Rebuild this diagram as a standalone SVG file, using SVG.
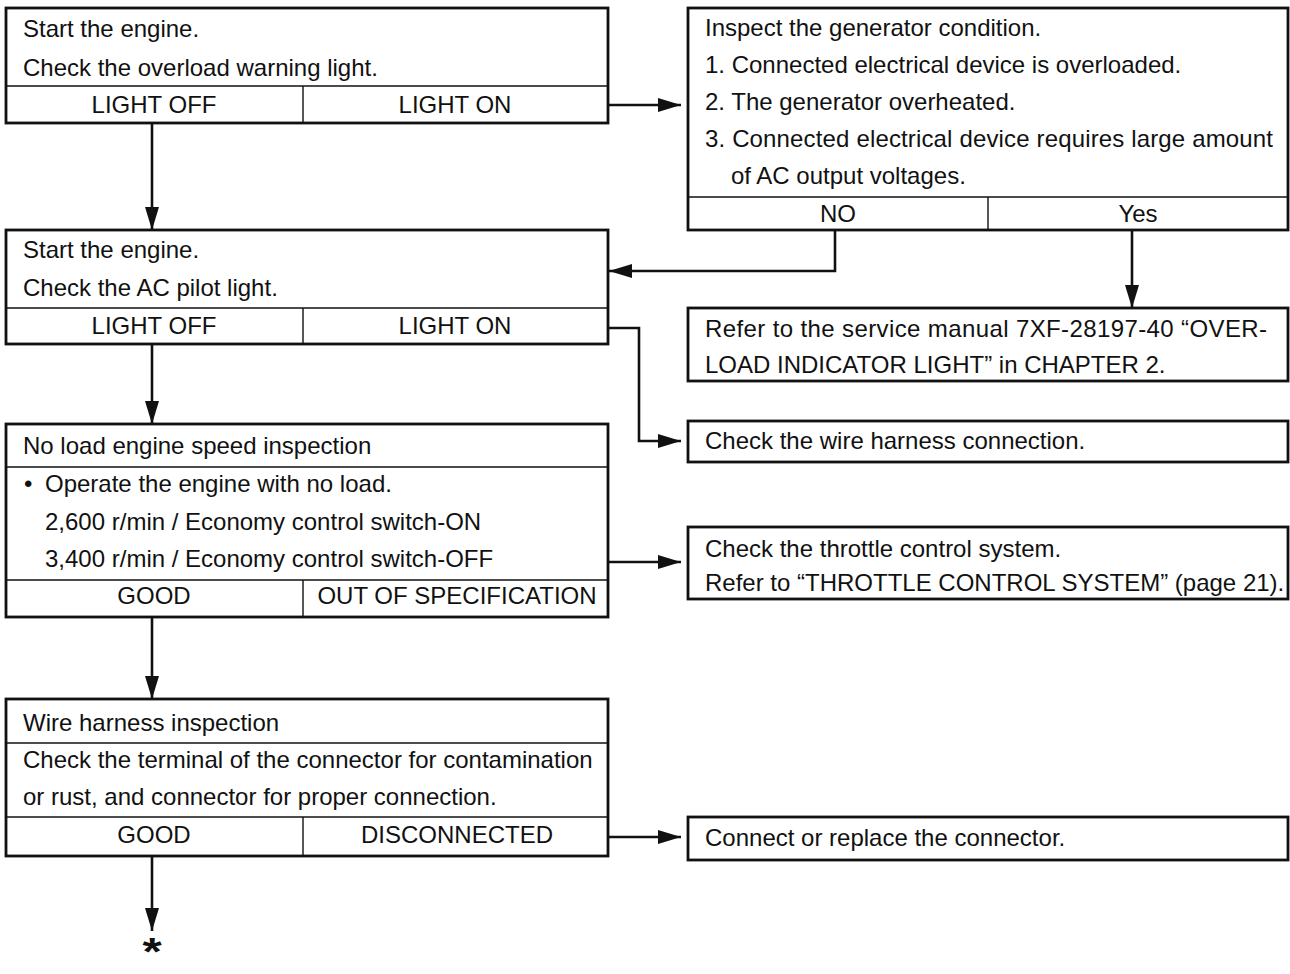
<svg xmlns="http://www.w3.org/2000/svg" width="1290" height="974" viewBox="0 0 1290 974">
<style>
.box{fill:#fff;stroke:#111;stroke-width:2.8}
.div{stroke:#111;stroke-width:1.4;fill:none}
.t{font-family:"Liberation Sans",Arial,Helvetica,sans-serif;font-size:24px;fill:#111}
.c{text-anchor:middle}
.con{fill:none;stroke:#111;stroke-width:2.6;marker-end:url(#ah)}
.star{font-family:"Liberation Sans",Arial,sans-serif;font-weight:bold;font-size:38px;fill:#111;text-anchor:middle}
</style>
<defs>
<marker id="ah" viewBox="0 0 23 14" refX="23" refY="7" markerWidth="23" markerHeight="14" markerUnits="userSpaceOnUse" orient="auto">
<path d="M0,0 L23,7 L0,14 Z" fill="#111"/>
</marker>
</defs>
<rect width="1290" height="974" fill="#fff"/>

<g id="connectors">
<path class="con" d="M608,105 H681"/>
<path class="con" d="M152,123 V230"/>
<path class="con" d="M835,230 V271 H609"/>
<path class="con" d="M1132,230 V308"/>
<path class="con" d="M608,328 H639 V441 H681"/>
<path class="con" d="M152,344 V424"/>
<path class="con" d="M608,562 H681"/>
<path class="con" d="M152,617 V699"/>
<path class="con" d="M608,837 H681"/>
<path class="con" d="M152,856 V931"/>
</g>

<g id="n1">
<rect class="box" x="6" y="8" width="602" height="115"/>
<line class="div" x1="6" y1="86" x2="608" y2="86"/>
<line class="div" x1="303" y1="86" x2="303" y2="123"/>
<text class="t" x="23" y="37">Start the engine.</text>
<text class="t" x="23" y="76">Check the overload warning light.</text>
<text class="t c" x="154" y="113">LIGHT OFF</text>
<text class="t c" x="455" y="113">LIGHT ON</text>
</g>

<g id="n2">
<rect class="box" x="688" y="8" width="600" height="222"/>
<line class="div" x1="688" y1="197" x2="1288" y2="197"/>
<line class="div" x1="988" y1="197" x2="988" y2="230"/>
<text class="t" x="705" y="36">Inspect the generator condition.</text>
<text class="t" x="705" y="73">1. Connected electrical device is overloaded.</text>
<text class="t" x="705" y="110">2. The generator overheated.</text>
<text class="t" x="705" y="147" textLength="568" lengthAdjust="spacing">3. Connected electrical device requires large amount</text>
<text class="t" x="731" y="184">of AC output voltages.</text>
<text class="t c" x="838" y="222">NO</text>
<text class="t c" x="1138" y="222">Yes</text>
</g>

<g id="n3">
<rect class="box" x="6" y="230" width="602" height="114"/>
<line class="div" x1="6" y1="308" x2="608" y2="308"/>
<line class="div" x1="303" y1="308" x2="303" y2="344"/>
<text class="t" x="23" y="258">Start the engine.</text>
<text class="t" x="23" y="296">Check the AC pilot light.</text>
<text class="t c" x="154" y="334">LIGHT OFF</text>
<text class="t c" x="455" y="334">LIGHT ON</text>
</g>

<g id="n4">
<rect class="box" x="688" y="308" width="600" height="73"/>
<text class="t" x="705" y="337" textLength="562" lengthAdjust="spacing">Refer to the service manual 7XF-28197-40 “OVER-</text>
<text class="t" x="705" y="373">LOAD INDICATOR LIGHT” in CHAPTER 2.</text>
</g>

<g id="n5">
<rect class="box" x="688" y="421" width="600" height="41"/>
<text class="t" x="705" y="449">Check the wire harness connection.</text>
</g>

<g id="n6">
<rect class="box" x="6" y="424" width="602" height="193"/>
<line class="div" x1="6" y1="467" x2="608" y2="467"/>
<line class="div" x1="6" y1="580" x2="608" y2="580"/>
<line class="div" x1="303" y1="580" x2="303" y2="617"/>
<text class="t" x="23" y="454">No load engine speed inspection</text>
<text class="t" x="24" y="492">•</text>
<text class="t" x="45" y="492">Operate the engine with no load.</text>
<text class="t" x="45" y="530">2,600 r/min / Economy control switch-ON</text>
<text class="t" x="45" y="567">3,400 r/min / Economy control switch-OFF</text>
<text class="t c" x="154" y="604">GOOD</text>
<text class="t c" x="457" y="604">OUT OF SPECIFICATION</text>
</g>

<g id="n7">
<rect class="box" x="688" y="527" width="600" height="72"/>
<text class="t" x="705" y="557">Check the throttle control system.</text>
<text class="t" x="705" y="591">Refer to “THROTTLE CONTROL SYSTEM” (page 21).</text>
</g>

<g id="n8">
<rect class="box" x="6" y="699" width="602" height="157"/>
<line class="div" x1="6" y1="743" x2="608" y2="743"/>
<line class="div" x1="6" y1="817" x2="608" y2="817"/>
<line class="div" x1="303" y1="817" x2="303" y2="856"/>
<text class="t" x="23" y="731">Wire harness inspection</text>
<text class="t" x="23" y="768">Check the terminal of the connector for contamination</text>
<text class="t" x="23" y="805">or rust, and connector for proper connection.</text>
<text class="t c" x="154" y="843">GOOD</text>
<text class="t c" x="457" y="843">DISCONNECTED</text>
</g>

<g id="n9">
<rect class="box" x="688" y="817" width="600" height="43"/>
<text class="t" x="705" y="846">Connect or replace the connector.</text>
</g>

<g id="end">
<text class="star" x="0" y="965" transform="translate(152,0) scale(1.3,1)">*</text>
</g>
</svg>
